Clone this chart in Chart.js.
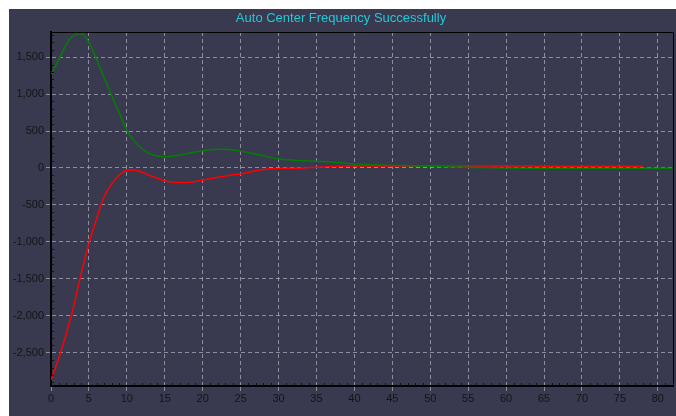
<!DOCTYPE html>
<html lang="en">
<head>
    <meta charset="UTF-8">
    <script src="https://cdn.jsdelivr.net/npm/chart.js@4.4.0/dist/chart.umd.min.js"></script>
    <title>Auto Center Frequency</title>
    <style>
        html, body { margin: 0; padding: 0; background: #ffffff; }
        #panel {
            position: absolute; left: 9px; top: 9px;
            width: 667px; height: 407px;
            background: #393950;
        }
    </style>
</head>
<body>
    <div id="panel">
        <canvas id="myChart" width="667" height="407"></canvas>
    </div>
    <script>
        // x positions of the samples
        const xs = [0,1,2,3,4,5,6,7,8,9,10,11,12,13,14,15,16,17,18,19,20,
                    21,22,23,24,25,26,27,28,29,30,32,34,36,38,40,42,44,46,48,50,
                    52,54,56,58,60,62,64,66,68,70,72,74,76,78,80,82];
        // green curve
        const greenVals = [1270,1460,1670,1795,1815,1700,1475,1225,980,745,510,
                    360,260,195,162,152,158,175,195,215,232,
                    248,255,252,242,228,210,188,165,140,122,105,95,88,70,55,45,38,32,28,22,
                    18,12,6,2,0,-2,-3,-3,-3,-3,-3,-3,-3,-3,-3,-3];
        // red curve (ends near 78)
        const redVals = [-2865,-2580,-2250,-1865,-1420,-1020,-690,-390,-215,-95,-30,
                    -28,-58,-100,-140,-172,-190,-198,-196,-183,-165,
                    -145,-126,-108,-92,-80,-60,-38,-20,-10,-6,-3,5,15,25,27,27,27,27,27,27,
                    27,27,27,27,27,27,25,25,25,25,25,25,25,25,null,null];

        // labelled ticks on the y axis
        const yTicks = [-2500,-2000,-1500,-1000,-500,0,500,1000,1500];

        const titleText = 'Auto Center Frequency Successfully';

        // minor ticks on the inside of the axes + thin frame top/right
        const frame = {
            id: 'frame',
            afterDraw(chart) {
                const c = chart.ctx, a = chart.chartArea;
                const sx = chart.scales.x, sy = chart.scales.y;
                c.save();
                c.strokeStyle = '#000';
                c.lineWidth = 1;
                c.beginPath();
                c.moveTo(a.left, a.top + 0.5); c.lineTo(a.right + 0.5, a.top + 0.5);
                c.lineTo(a.right + 0.5, a.bottom);
                c.stroke();
                c.strokeStyle = '#111';
                c.beginPath();
                for (let v = 0; v <= sx.max; v += 1) {
                    if (v % 5 === 0) continue;
                    const px = Math.round(sx.getPixelForValue(v)) + 0.5;
                    c.moveTo(px, a.bottom); c.lineTo(px, a.bottom - 3);
                }
                for (let v = -2900; v <= sy.max; v += 100) {
                    if (v % 500 === 0) continue;
                    const py = Math.round(sy.getPixelForValue(v)) + 0.5;
                    c.moveTo(a.left, py); c.lineTo(a.left + 3, py);
                }
                c.stroke();
                c.restore();
            }
        };

        const gridStyle = {
            color: 'rgba(170,170,180,0.75)',
            tickLength: 5,
            tickColor: 'rgba(170,170,180,0.75)',
            tickBorderDash: [4, 3]
        };
        const borderStyle = { display: true, color: '#000', width: 2, dash: [4, 3] };

        var ctx = document.getElementById('myChart').getContext('2d');
        var myChart = new Chart(ctx, {
            type: 'line',
            data: {
                datasets: [{
                    label: 'green',
                    data: xs.map((x, i) => ({x: x, y: greenVals[i]})),
                    borderColor: '#008000',
                    borderWidth: 1.5,
                    pointRadius: 0,
                    cubicInterpolationMode: 'monotone'
                }, {
                    label: 'red',
                    data: xs.map((x, i) => ({x: x, y: redVals[i]})),
                    borderColor: '#ff0000',
                    borderWidth: 1.5,
                    pointRadius: 0,
                    cubicInterpolationMode: 'monotone'
                }]
            },
            options: {
                responsive: false,
                animation: false,
                layout: { padding: { left: 0, right: 3, top: 0, bottom: 0 } },
                plugins: {
                    legend: { display: false },
                    tooltip: { enabled: false },
                    title: {
                        display: true,
                        text: titleText,
                        color: '#1ecbd6',
                        font: { family: 'Liberation Sans', size: 13, weight: 'normal' },
                        padding: { top: 1.5, bottom: 5.9 }
                    }
                },
                scales: {
                    x: {
                        type: 'linear',
                        min: 0, max: 82,
                        afterFit(s) { s.height = 30; },
                        grid: gridStyle,
                        border: borderStyle,
                        ticks: {
                            stepSize: 5, includeBounds: false, padding: 1,
                            maxRotation: 0, autoSkip: false,
                            color: '#151515',
                            font: { family: 'Liberation Sans', size: 11 }
                        }
                    },
                    y: {
                        type: 'linear',
                        min: -2950, max: 1840,
                        afterFit(s) { s.width = 42; },
                        afterBuildTicks(s) { s.ticks = yTicks.map(v => ({value: v})); },
                        grid: gridStyle,
                        border: borderStyle,
                        ticks: {
                            padding: 2,
                            color: '#151515',
                            font: { family: 'Liberation Sans', size: 11 },
                            callback: v => v.toLocaleString('en-US')
                        }
                    }
                }
            },
            plugins: [frame]
        });
    </script>
</body>
</html>
